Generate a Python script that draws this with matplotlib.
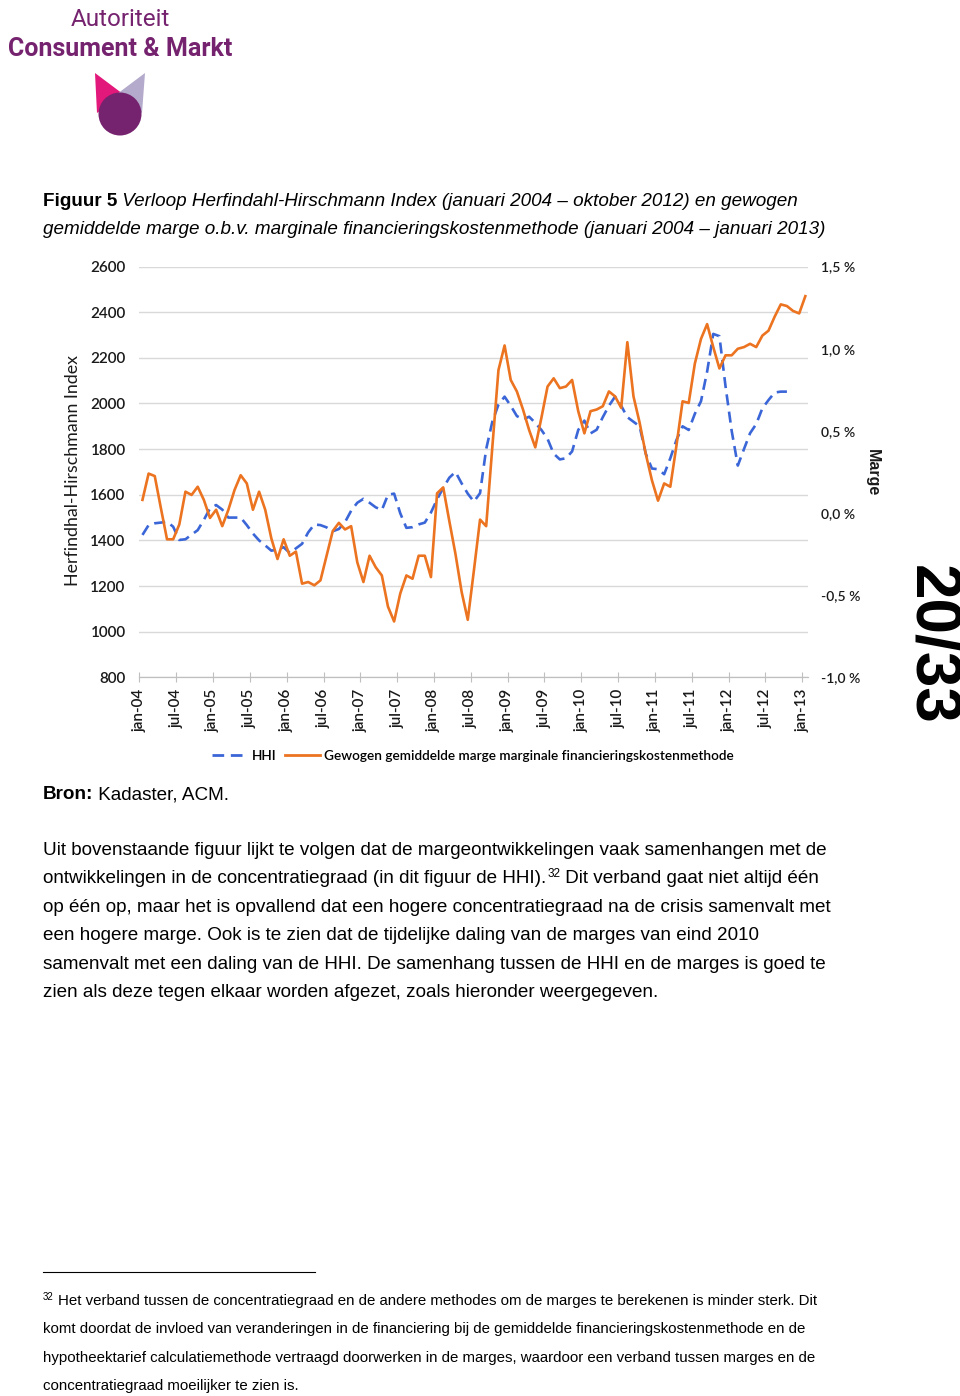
import matplotlib
matplotlib.use('Agg')
import matplotlib.pyplot as plt
from matplotlib.patches import Polygon, Circle
from matplotlib.lines import Line2D

# tick labels every half year, jan-04 .. jan-13
tick_labels = ['jan-04', 'jul-04', 'jan-05', 'jul-05', 'jan-06', 'jul-06',
               'jan-07', 'jul-07', 'jan-08', 'jul-08', 'jan-09', 'jul-09',
               'jan-10', 'jul-10', 'jan-11', 'jul-11', 'jan-12', 'jul-12',
               'jan-13']

# HHI, monthly jan-04 .. okt-12
hhi = [1424, 1467, 1475, 1478, 1482, 1460, 1402, 1405, 1425, 1445,
       1490, 1540, 1555, 1535, 1500, 1500, 1500, 1467, 1430, 1400,
       1378, 1355, 1360, 1370, 1345, 1365, 1385, 1435, 1470, 1467,
       1457, 1440, 1450, 1480, 1530, 1565, 1582, 1565, 1545, 1533,
       1600, 1605, 1519, 1455, 1458, 1470, 1478, 1522, 1580, 1630,
       1675, 1700, 1650, 1605, 1570, 1607, 1800, 1920, 1995, 2030,
       1990, 1945, 1930, 1942, 1915, 1884, 1845, 1780, 1755, 1760,
       1790, 1884, 1925, 1869, 1885, 1940, 1990, 2030, 1990, 1940,
       1920, 1900, 1780, 1715, 1712, 1690, 1760, 1840, 1900, 1884,
       1955, 2010, 2140, 2305, 2295, 2075, 1880, 1728, 1800, 1870,
       1910, 1979, 2015, 2048, 2052, 2052]

# gewogen gemiddelde marge (%), monthly jan-04 .. jan-13
marge = [0.08, 0.24, 0.225, 0.03, -0.16, -0.16, -0.07, 0.13, 0.11, 0.16,
         0.08, -0.03, 0.02, -0.08, 0.02, 0.14, 0.23, 0.18, 0.02, 0.13,
         0.02, -0.155, -0.28, -0.16, -0.26, -0.235, -0.43, -0.42, -0.44, -0.41,
         -0.26, -0.11, -0.06, -0.10, -0.08, -0.30, -0.42, -0.26, -0.33, -0.38,
         -0.57, -0.66, -0.49, -0.38, -0.40, -0.26, -0.26, -0.39, 0.12, 0.156,
         -0.05, -0.25, -0.48, -0.65, -0.35, -0.04, -0.08, 0.40, 0.87, 1.02,
         0.81, 0.74, 0.63, 0.505, 0.40, 0.58, 0.77, 0.82, 0.76, 0.77,
         0.81, 0.62, 0.485, 0.62, 0.63, 0.65, 0.74, 0.71, 0.64, 1.04,
         0.71, 0.55, 0.36, 0.20, 0.075, 0.18, 0.16, 0.41, 0.68, 0.67,
         0.91, 1.06, 1.15, 1.01, 0.88, 0.96, 0.96, 1.00, 1.01, 1.03,
         1.01, 1.08, 1.11, 1.195, 1.27, 1.26, 1.23, 1.215, 1.32]

left_ticks = [800, 1000, 1200, 1400, 1600, 1800, 2000, 2200, 2400, 2600]
right_ticks = [-1.0, -0.5, 0.0, 0.5, 1.0, 1.5]
right_labels = ['-1,0 %', '-0,5 %', '0,0 %', '0,5 %', '1,0 %', '1,5 %']

blue = '#3b66d8'
orange = '#ec7320'
purple = '#76236f'
chart_font = 'Lato'
body_font = 'Liberation Sans'

fig = plt.figure(figsize=(9.6, 13.96), dpi=100)

# page overlay in pixel coordinates
bg = fig.add_axes([0, 0, 1, 1], zorder=-1)
bg.set_xlim(0, 960)
bg.set_ylim(1396, 0)
bg.axis('off')

# logo
bg.text(120, 26, 'Autoriteit', ha='center', va='baseline', fontsize=17.5,
        family='Roboto', color=purple)
bg.text(120, 56, 'Consument & Markt', ha='center', va='baseline', fontsize=18,
        family='Roboto', weight='bold', color=purple)
bg.add_patch(Polygon([(95, 73), (123, 94), (97, 113)], closed=True,
                     color='#e2187a', lw=0))
bg.add_patch(Polygon([(145, 73), (142, 113), (117, 94)], closed=True,
                     color='#b4aacb', lw=0))
bg.add_patch(Circle((120, 114), 21.5, color=purple, lw=0))

# chart
ax = fig.add_axes([139.4 / 960, 1 - 677.3 / 1396,
                   (808.4 - 139.4) / 960, (677.3 - 266.6) / 1396])
ax2 = ax.twinx()

ax.plot(range(len(hhi)), hhi, color=blue, lw=1.9, dashes=(4.2, 2.4))
ax2.plot(range(len(marge)), marge, color=orange, lw=1.9)

ax.set_xlim(-0.5, len(marge) - 0.5)
ax.set_ylim(800, 2600)
ax.set_yticks(left_ticks)
ax.set_yticklabels([str(v) for v in left_ticks])
ax2.set_ylim(-1.0, 1.5)
ax2.set_yticks(right_ticks)
ax2.set_yticklabels(right_labels)

ax.set_xticks([-0.5 + 6 * k for k in range(len(tick_labels))])
ax.set_xticklabels(tick_labels, rotation=90)

ax.yaxis.grid(True, color='#d9d9d9', lw=1)
ax.set_axisbelow(True)
for a in (ax, ax2):
    for s in ('top', 'left', 'right'):
        a.spines[s].set_visible(False)
    a.spines['bottom'].set_color('#bfbfbf')
ax.tick_params(axis='y', length=0, pad=10, labelsize=11, labelcolor='#1a1a1a')
ax2.tick_params(axis='y', length=0, pad=9, labelsize=10, labelcolor='#1a1a1a')
ax.tick_params(axis='x', direction='inout', length=7, color='#bfbfbf',
               pad=5, labelsize=11, labelcolor='#1a1a1a')
for lab in ax.get_xticklabels() + ax.get_yticklabels() + ax2.get_yticklabels():
    lab.set_family(chart_font)
    lab.set_weight('semibold')

handles = [Line2D([], [], color=blue, lw=2, dashes=(4.2, 2.4)),
           Line2D([], [], color=orange, lw=2)]
fig.legend(handles, ['HHI', 'Gewogen gemiddelde marge marginale financieringskostenmethode'],
           loc='center', bbox_to_anchor=(473 / 960, 1 - 756 / 1396), ncol=2,
           frameon=False, handlelength=2.6, handletextpad=0.3, columnspacing=0.6,
           prop={'family': chart_font, 'weight': 'semibold', 'size': 9.8})

bg.text(73, 470, 'Herfindhal-Hirschmann Index', rotation=90, ha='center',
        va='center', fontsize=12.8, family=chart_font, color='#1a1a1a')
bg.text(872, 473, 'Marge', rotation=-90, ha='center', va='center',
        fontsize=11.5, family=body_font, weight='bold', color='#1a1a1a')
bg.text(931, 645, '20/33', rotation=-90, ha='center', va='center',
        fontsize=46, family=body_font, weight='bold', color='black')

# page text
renderer = fig.canvas.get_renderer()


def put(x, y, s, size=13.6, **kw):
    t = bg.text(x, y, s, va='baseline', fontsize=size, family=body_font,
                color='black', **kw)
    return x + t.get_window_extent(renderer).width


x = put(43, 206, 'Figuur 5', weight='bold')
put(x, 206, ' Verloop Herfindahl-Hirschmann Index (januari 2004 \u2013 oktober 2012) en gewogen',
    style='italic')
put(43, 234, 'gemiddelde marge o.b.v. marginale financieringskostenmethode (januari 2004 \u2013 januari 2013)',
    style='italic')

x = put(43, 799, 'Bron:', weight='bold')
put(x, 799, ' Kadaster, ACM.')

lines = [
    'Uit bovenstaande figuur lijkt te volgen dat de margeontwikkelingen vaak samenhangen met de',
    None,
    'op \u00e9\u00e9n op, maar het is opvallend dat een hogere concentratiegraad na de crisis samenvalt met',
    'een hogere marge. Ook is te zien dat de tijdelijke daling van de marges van eind 2010',
    'samenvalt met een daling van de HHI. De samenhang tussen de HHI en de marges is goed te',
    'zien als deze tegen elkaar worden afgezet, zoals hieronder weergegeven.',
]
for k, s in enumerate(lines):
    y = 855 + k * 28.4
    if s is None:
        x = put(43, y, 'ontwikkelingen in de concentratiegraad (in dit figuur de HHI).')
        x = put(x + 1, y - 6, '32', size=8.5)
        put(x, y, ' Dit verband gaat niet altijd \u00e9\u00e9n')
    else:
        put(43, y, s)

bg.plot([43, 315], [1272, 1272], color='black', lw=0.8)
put(43, 1300, '32', size=7)
notes = [
    'Het verband tussen de concentratiegraad en de andere methodes om de marges te berekenen is minder sterk. Dit',
    'komt doordat de invloed van veranderingen in de financiering bij de gemiddelde financieringskostenmethode en de',
    'hypotheektarief calculatiemethode vertraagd doorwerken in de marges, waardoor een verband tussen marges en de',
    'concentratiegraad moeilijker te zien is.',
]
for k, s in enumerate(notes):
    put(58 if k == 0 else 43, 1305 + k * 28.3, s, size=10.85)

fig.savefig('out.png', dpi=100)
